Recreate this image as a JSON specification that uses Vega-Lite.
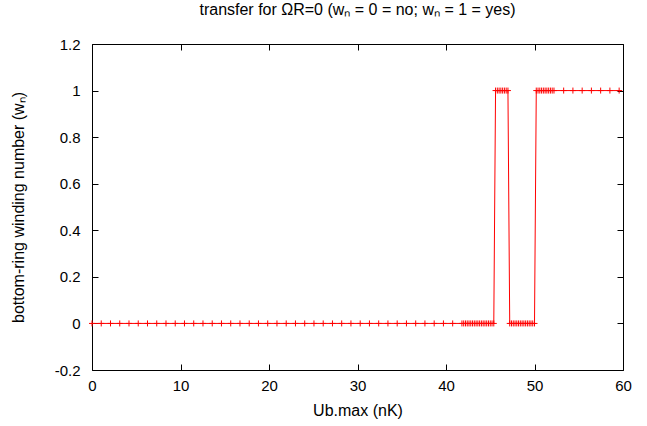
{
  "$schema": "https://vega.github.io/schema/vega-lite/v6.json",
  "width": 531,
  "height": 326,
  "autosize": "none",
  "padding": {"left": 92, "top": 44, "right": 24, "bottom": 56},
  "background": "white",
  "config": {
    "view": {"stroke": "#000000", "strokeWidth": 1},
    "font": "Liberation Sans",
    "axis": {"grid": false, "domain": false, "labelFlush": false, "labelFont": "Liberation Sans", "titleFont": "Liberation Sans", "labelFontSize": 15, "titleFontSize": 16, "titleFontWeight": "normal", "labelColor": "#000000", "titleColor": "#000000", "tickColor": "#000000", "tickSize": -6,
      "labelExpr": "replace(format(datum.value, '~g'), '−', '-')"}
  },
  "title": {"text": "transfer for ΩR=0 (wₙ = 0 = no; wₙ = 1 = yes)", "fontSize": 16, "fontWeight": "normal", "font": "Liberation Sans", "anchor": "middle", "offset": 19, "color": "#000000"},
  "data": {"values": [
    {"U": 0, "w": 0}, {"U": 1.045, "w": 0}, {"U": 2.09, "w": 0}, {"U": 3.135, "w": 0}, {"U": 4.18, "w": 0},
    {"U": 5.225, "w": 0}, {"U": 6.27, "w": 0}, {"U": 7.315, "w": 0}, {"U": 8.36, "w": 0}, {"U": 9.405, "w": 0},
    {"U": 10.45, "w": 0}, {"U": 11.495, "w": 0}, {"U": 12.54, "w": 0}, {"U": 13.585, "w": 0}, {"U": 14.63, "w": 0},
    {"U": 15.675, "w": 0}, {"U": 16.72, "w": 0}, {"U": 17.765, "w": 0}, {"U": 18.81, "w": 0}, {"U": 19.855, "w": 0},
    {"U": 20.9, "w": 0}, {"U": 21.945, "w": 0}, {"U": 22.99, "w": 0}, {"U": 24.035, "w": 0}, {"U": 25.08, "w": 0},
    {"U": 26.125, "w": 0}, {"U": 27.17, "w": 0}, {"U": 28.215, "w": 0}, {"U": 29.26, "w": 0}, {"U": 30.305, "w": 0},
    {"U": 31.35, "w": 0}, {"U": 32.395, "w": 0}, {"U": 33.44, "w": 0}, {"U": 34.485, "w": 0}, {"U": 35.53, "w": 0},
    {"U": 36.575, "w": 0}, {"U": 37.62, "w": 0}, {"U": 38.665, "w": 0}, {"U": 39.71, "w": 0}, {"U": 40.755, "w": 0},
    {"U": 41.8, "w": 0}, {"U": 42.0, "w": 0}, {"U": 42.2, "w": 0}, {"U": 42.4, "w": 0}, {"U": 42.6, "w": 0},
    {"U": 42.8, "w": 0}, {"U": 43.0, "w": 0}, {"U": 43.2, "w": 0}, {"U": 43.4, "w": 0}, {"U": 43.6, "w": 0},
    {"U": 43.8, "w": 0}, {"U": 44.0, "w": 0}, {"U": 44.2, "w": 0}, {"U": 44.4, "w": 0}, {"U": 44.6, "w": 0},
    {"U": 44.8, "w": 0}, {"U": 45.0, "w": 0}, {"U": 45.2, "w": 0}, {"U": 45.4, "w": 0},
    {"U": 45.6, "w": 1}, {"U": 45.8, "w": 1}, {"U": 46.0, "w": 1}, {"U": 46.2, "w": 1}, {"U": 46.4, "w": 1},
    {"U": 46.6, "w": 1}, {"U": 46.8, "w": 1}, {"U": 47.0, "w": 1},
    {"U": 47.2, "w": 0}, {"U": 47.4, "w": 0}, {"U": 47.6, "w": 0}, {"U": 47.8, "w": 0}, {"U": 48.0, "w": 0},
    {"U": 48.2, "w": 0}, {"U": 48.4, "w": 0}, {"U": 48.6, "w": 0}, {"U": 48.8, "w": 0}, {"U": 49.0, "w": 0},
    {"U": 49.2, "w": 0}, {"U": 49.4, "w": 0}, {"U": 49.6, "w": 0}, {"U": 49.8, "w": 0}, {"U": 50.0, "w": 0},
    {"U": 50.2, "w": 1}, {"U": 50.4, "w": 1}, {"U": 50.6, "w": 1}, {"U": 50.8, "w": 1}, {"U": 51.0, "w": 1},
    {"U": 51.2, "w": 1}, {"U": 51.4, "w": 1}, {"U": 51.6, "w": 1}, {"U": 51.8, "w": 1}, {"U": 52.0, "w": 1},
    {"U": 52.2, "w": 1},
    {"U": 53.295, "w": 1}, {"U": 54.34, "w": 1}, {"U": 55.385, "w": 1}, {"U": 56.43, "w": 1}, {"U": 57.475, "w": 1},
    {"U": 58.52, "w": 1}, {"U": 59.565, "w": 1}
  ]},
  "layer": [
    {
      "mark": {"type": "line", "color": "#ff0000", "strokeWidth": 1},
      "encoding": {
        "x": {"field": "U", "type": "quantitative", "scale": {"domain": [0, 60], "nice": false, "zero": false},
          "axis": {"orient": "bottom", "values": [0, 10, 20, 30, 40, 50, 60], "title": "Ub.max (nK)", "labelPadding": 14, "titlePadding": 9}},
        "y": {"field": "w", "type": "quantitative", "scale": {"domain": [-0.2, 1.2], "nice": false, "zero": false},
          "axis": {"orient": "left", "values": [-0.2, 0, 0.2, 0.4, 0.6, 0.8, 1, 1.2], "title": "bottom-ring winding number (wₙ)", "labelPadding": 18, "titlePadding": 28}}
      }
    },
    {
      "mark": {"type": "point", "shape": "M-1,0L1,0M0,-1L0,1", "filled": false, "stroke": "#ff0000", "strokeWidth": 1, "size": 36, "opacity": 1},
      "encoding": {
        "x": {"field": "U", "type": "quantitative",
          "axis": {"orient": "top", "values": [0, 10, 20, 30, 40, 50, 60], "labels": false, "title": null}},
        "y": {"field": "w", "type": "quantitative",
          "axis": {"orient": "right", "values": [-0.2, 0, 0.2, 0.4, 0.6, 0.8, 1, 1.2], "labels": false, "title": null}}
      }
    }
  ],
  "resolve": {"axis": {"x": "independent", "y": "independent"}}
}
